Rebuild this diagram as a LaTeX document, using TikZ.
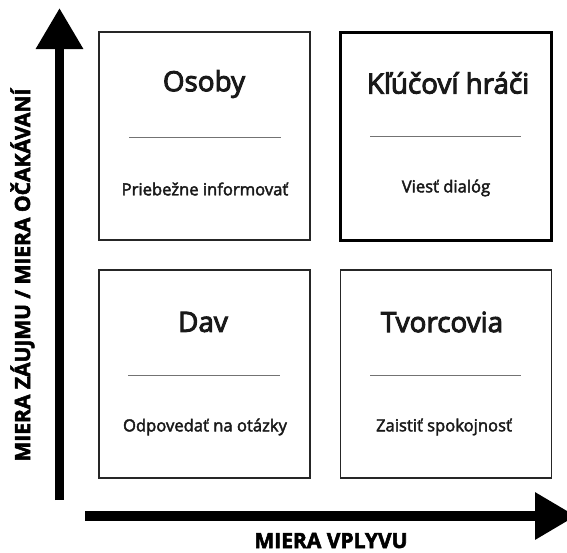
\documentclass[tikz,border=0pt]{standalone}
\usepackage{fontspec}
\setmainfont{Open Sans}
\newfontfamily\titlefont{Open Sans}[FakeBold=3.5]
\newfontfamily\subfont{Open Sans}[FakeBold=2.5]
\newfontfamily\axisfont{Open Sans}[UprightFont={* Bold},FakeBold=2.5]
\usetikzlibrary{arrows.meta}
\tikzset{
  quad/.style={draw=black!85, line width=1.3pt, minimum width=211pt, minimum height=208pt, inner sep=0pt},
  quadkey/.style={quad, draw=black, line width=2.3pt},
  title/.style={font=\titlefont\fontsize{27.8}{32}\selectfont, text=black!90, inner sep=0pt, anchor=center},
  sub/.style={font=\subfont\fontsize{16.6}{20}\selectfont, text=black!90, inner sep=0pt, anchor=center},
  sepline/.style={draw=black!55, line width=1pt},
  axis/.style={line width=9.5pt, -{Triangle[length=41pt,width=45pt]}},
  axislabel/.style={font=\axisfont\fontsize{21}{24}\selectfont, inner sep=0pt, text depth=0pt}
}
\begin{document}
\begin{tikzpicture}[x=1pt,y=-1pt]
\useasboundingbox (0,0) rectangle (567,552);
\clip (0,0) rectangle (567,552);
% quadrants
\node[quad] (q1) at (204.5,136) {};
\node[quadkey] (q2) at (446,136.5) {};
\node[quad] (q3) at (204.5,374) {};
\node[quad] (q4) at (446,374) {};
% titles
\node[title] (t1) at (204,84) {Osoby};
\node[title] (t2) at (448,83) {Kľúčoví hráči};
\node[title] (t3) at (203,322) {Dav};
\node[title] (t4) at (442,322) {Tvorcovia};
% separators
\coordinate (l1a) at (129,137); \coordinate (l1b) at (281,137);
\coordinate (l2a) at (370,136); \coordinate (l2b) at (521,136);
\coordinate (l3a) at (128,375); \coordinate (l3b) at (280,375);
\coordinate (l4a) at (370,375); \coordinate (l4b) at (521,375);
\draw[sepline] (l1a) -- (l1b);
\draw[sepline] (l2a) -- (l2b);
\draw[sepline] (l3a) -- (l3b);
\draw[sepline] (l4a) -- (l4b);
% subtitles
\node[sub] (s1) at (205,189) {Priebežne informovať};
\node[sub] (s2) at (446,188) {Viesť dialóg};
\node[sub] (s3) at (205,427) {Odpovedať na otázky};
\node[sub] (s4) at (444,427) {Zaistiť spokojnosť};
% axes
\coordinate (yb) at (59.5,500);
\coordinate (yt) at (59.5,8);
\coordinate (xb) at (85,516);
\coordinate (xt) at (576,516);
\draw[axis] (yb) -- (yt);
\draw[axis] (xb) -- (xt);
\node[axislabel, anchor=base] (xl) at (331,548) {MIERA VPLYVU};
\node[axislabel, anchor=base, rotate=90] (yl) at (30,275) {MIERA ZÁUJMU / MIERA OČAKÁVANÍ};
\end{tikzpicture}
\end{document}
